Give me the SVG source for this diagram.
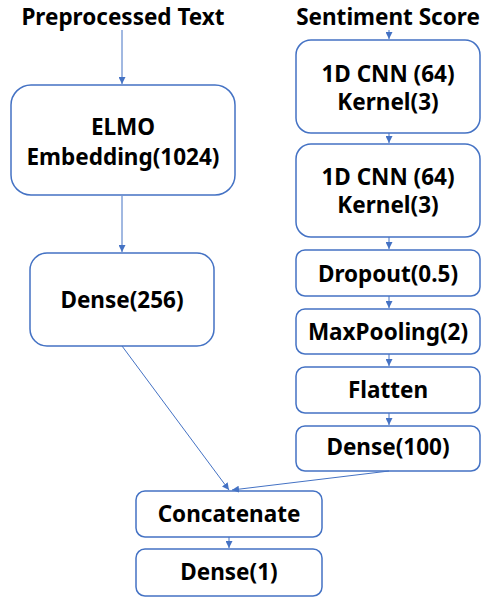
<svg xmlns="http://www.w3.org/2000/svg" width="481" height="599" viewBox="0 0 481 599">
  <style>
    .box { fill: #ffffff; stroke: #4472c4; stroke-width: 1.5; }
    .lbl { font-family: "Noto Sans", "Noto Sans CJK KR", sans-serif; font-weight: bold; font-size: 22.5px; fill: #000000; text-anchor: middle; }
    .edge { fill: none; stroke: #4472c4; stroke-width: 1; marker-end: url(#arrow); }
  </style>
  <defs>
    <marker id="arrow" viewBox="0 0 10 10" refX="10" refY="5" markerWidth="7" markerHeight="7" markerUnits="userSpaceOnUse" orient="auto">
      <path d="M0,0 L10,5 L0,10 z" fill="#4472c4"/>
    </marker>
  </defs>

  <g id="input-text">
    <text class="lbl" x="123" y="25">Preprocessed Text</text>
  </g>
  <g id="input-sentiment">
    <text class="lbl" x="388" y="25">Sentiment Score</text>
  </g>

  <g id="elmo">
    <rect class="box" x="11" y="85" width="224" height="110" rx="20"/>
    <text class="lbl" x="123" y="135">ELMO</text>
    <text class="lbl" x="123" y="165">Embedding(1024)</text>
  </g>
  <g id="dense256">
    <rect class="box" x="30" y="253" width="184" height="93" rx="17"/>
    <text class="lbl" x="122" y="308">Dense(256)</text>
  </g>

  <g id="cnn1">
    <rect class="box" x="296" y="40" width="184" height="93" rx="15"/>
    <text class="lbl" x="388" y="82">1D CNN (64)</text>
    <text class="lbl" x="388" y="110">Kernel(3)</text>
  </g>
  <g id="cnn2">
    <rect class="box" x="296" y="144" width="184" height="93" rx="15"/>
    <text class="lbl" x="388" y="185">1D CNN (64)</text>
    <text class="lbl" x="388" y="213">Kernel(3)</text>
  </g>
  <g id="dropout">
    <rect class="box" x="296" y="250" width="184" height="46" rx="9"/>
    <text class="lbl" x="388" y="282">Dropout(0.5)</text>
  </g>
  <g id="maxpool">
    <rect class="box" x="296" y="309" width="184" height="45" rx="9"/>
    <text class="lbl" x="388" y="340">MaxPooling(2)</text>
  </g>
  <g id="flatten">
    <rect class="box" x="296" y="367" width="184" height="46" rx="9"/>
    <text class="lbl" x="388" y="398">Flatten</text>
  </g>
  <g id="dense100">
    <rect class="box" x="296" y="426" width="184" height="45" rx="9"/>
    <text class="lbl" x="388" y="455">Dense(100)</text>
  </g>

  <g id="concatenate">
    <rect class="box" x="136" y="491" width="186" height="46" rx="9"/>
    <text class="lbl" x="229" y="522">Concatenate</text>
  </g>
  <g id="dense1">
    <rect class="box" x="136" y="549" width="186" height="47" rx="9"/>
    <text class="lbl" x="229" y="580">Dense(1)</text>
  </g>

  <g id="connectors">
    <line class="edge" x1="122" y1="30" x2="122" y2="84"/>
    <line class="edge" x1="122" y1="196" x2="122" y2="252"/>
    <line class="edge" x1="122" y1="346" x2="229" y2="490"/>
    <line class="edge" x1="389" y1="30" x2="389" y2="39"/>
    <line class="edge" x1="389" y1="133" x2="389" y2="143"/>
    <line class="edge" x1="389" y1="237" x2="389" y2="249"/>
    <line class="edge" x1="389" y1="296" x2="389" y2="308"/>
    <line class="edge" x1="389" y1="354" x2="389" y2="366"/>
    <line class="edge" x1="389" y1="413" x2="389" y2="425"/>
    <line class="edge" x1="389" y1="471" x2="232" y2="490"/>
    <line class="edge" x1="229" y1="537" x2="229" y2="548"/>
  </g>
</svg>
